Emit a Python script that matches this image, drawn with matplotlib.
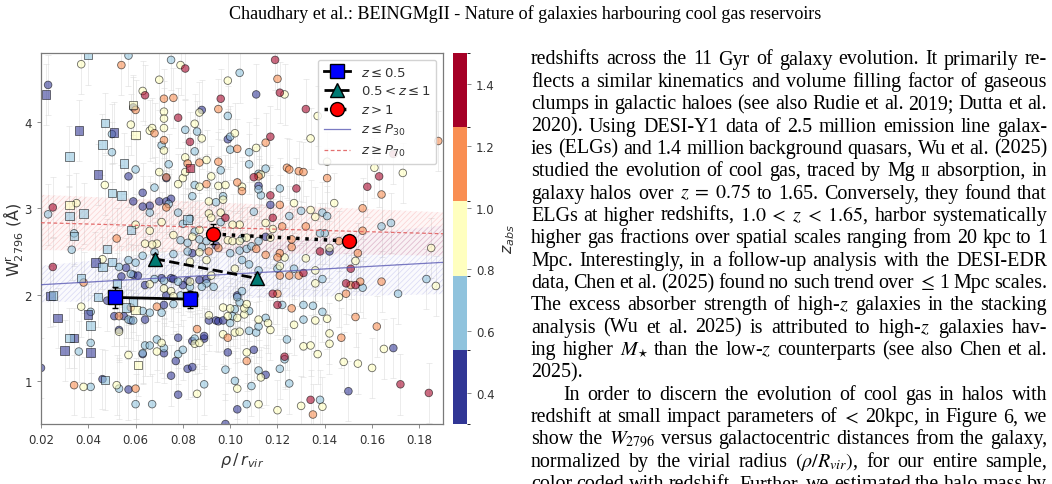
import numpy as np
import matplotlib
matplotlib.use("Agg")
import matplotlib.pyplot as plt
from matplotlib.colors import BoundaryNorm
import matplotlib.cm as cm
from matplotlib.lines import Line2D

# ---------------------------------------------------------------- data
# redshift value representative of each colour class (z_abs)
Z_DB, Z_LB, Z_YL, Z_OR, Z_RD = 0.42, 0.66, 0.90, 1.14, 1.38

# circles: (rho/r_vir, W2796)
RHO_DB = [0.023, 0.111, 0.059, 0.088, 0.099, 0.057, 0.073, 0.112, 0.117, 0.142, 0.073, 0.075, 0.070, 0.066,
          0.063, 0.059, 0.063, 0.084, 0.094, 0.056, 0.054, 0.059, 0.061, 0.064, 0.071, 0.075, 0.076, 0.082,
          0.087, 0.090, 0.085, 0.080, 0.073, 0.072, 0.064, 0.058, 0.055, 0.051, 0.053, 0.048, 0.020, 0.046,
          0.057, 0.063, 0.072, 0.075, 0.078, 0.077, 0.078, 0.082, 0.084, 0.084, 0.089, 0.089, 0.091, 0.094,
          0.095, 0.097, 0.103, 0.110, 0.099, 0.115, 0.103, 0.098, 0.169, 0.150, 0.115]
W_DB = [4.43, 4.32, 4.17, 4.14, 3.80, 3.37, 3.35, 3.26, 3.04, 2.50, 3.08, 3.11, 3.08, 3.03,
        3.18, 3.08, 3.02, 2.48, 2.57, 2.31, 2.21, 2.23, 2.22, 2.11, 2.19, 2.19, 2.18, 2.16,
        2.17, 2.18, 1.99, 2.11, 1.99, 1.88, 1.71, 1.70, 1.75, 1.75, 1.59, 1.93, 1.15, 1.02,
        0.90, 1.31, 1.32, 1.06, 0.84, 1.23, 1.50, 1.14, 1.16, 1.46, 1.49, 1.52, 1.70, 1.70,
        1.69, 1.70, 1.99, 1.36, 1.33, 1.07, 0.67, 0.50, 1.38, 0.88, 2.67]

RHO_LB = [0.057, 0.075, 0.104, 0.099, 0.050, 0.081, 0.086, 0.071, 0.100, 0.050, 0.085, 0.100, 0.108, 0.074,
          0.108, 0.060, 0.085, 0.096, 0.112, 0.115, 0.113, 0.121, 0.130, 0.139, 0.141, 0.140, 0.138, 0.168,
          0.164, 0.120, 0.127, 0.108, 0.105, 0.112, 0.096, 0.094, 0.097, 0.110, 0.112, 0.084, 0.074, 0.068,
          0.066, 0.078, 0.080, 0.079, 0.083, 0.085, 0.087, 0.082, 0.088, 0.090, 0.105, 0.100, 0.104, 0.107,
          0.109, 0.112, 0.082, 0.076, 0.068, 0.063, 0.060, 0.057, 0.053, 0.058, 0.068, 0.072, 0.078, 0.090,
          0.093, 0.088, 0.083, 0.079, 0.076, 0.071, 0.066, 0.063, 0.057, 0.059, 0.033, 0.034, 0.023, 0.041,
          0.041, 0.036, 0.041, 0.053, 0.060, 0.067, 0.063, 0.064, 0.066, 0.072, 0.069, 0.078, 0.080, 0.085,
          0.100, 0.108, 0.104, 0.103, 0.105, 0.102, 0.101, 0.108, 0.111, 0.112, 0.115, 0.112, 0.109, 0.107,
          0.102, 0.098, 0.089, 0.121, 0.123, 0.124, 0.125, 0.122, 0.131, 0.131, 0.135, 0.139, 0.138, 0.171,
          0.156, 0.183, 0.139, 0.125]
W_LB = [4.77, 4.72, 4.57, 4.07, 3.86, 3.91, 3.89, 3.73, 3.83, 3.65, 3.66, 3.68, 3.65, 3.51,
        3.51, 3.45, 3.27, 3.44, 3.40, 3.46, 3.15, 3.23, 2.97, 2.95, 2.91, 2.71, 2.71, 2.83,
        2.79, 2.30, 2.30, 2.35, 2.40, 2.28, 2.84, 3.07, 3.14, 2.96, 3.22, 3.14, 3.05, 3.24,
        2.95, 2.95, 2.82, 2.63, 2.88, 2.73, 2.64, 2.60, 2.55, 2.62, 2.65, 2.48, 2.51, 2.53,
        2.56, 2.62, 2.50, 2.47, 2.49, 2.45, 2.37, 2.40, 2.32, 2.24, 2.18, 2.16, 2.15, 2.13,
        2.09, 2.09, 2.09, 1.99, 1.89, 1.79, 1.79, 1.81, 1.71, 1.70, 2.52, 2.71, 2.93, 1.80,
        1.44, 1.34, 0.93, 0.91, 0.73, 0.73, 1.32, 1.41, 1.41, 1.38, 1.48, 1.31, 1.36, 1.49,
        1.67, 1.81, 1.91, 1.97, 2.04, 1.83, 1.75, 1.58, 1.56, 1.63, 1.73, 1.12, 0.94, 0.73,
        1.00, 1.13, 0.96, 1.14, 1.25, 1.48, 0.97, 1.88, 1.88, 1.71, 1.87, 1.80, 0.78, 2.01,
        2.08, 2.18, 2.18, 2.91]

RHO_YL = [0.037, 0.079, 0.070, 0.099, 0.123, 0.063, 0.087, 0.137, 0.058, 0.066, 0.067, 0.072, 0.085, 0.088,
          0.072, 0.102, 0.134, 0.111, 0.081, 0.090, 0.047, 0.080, 0.081, 0.070, 0.092, 0.095, 0.098, 0.105,
          0.113, 0.141, 0.144, 0.161, 0.173, 0.127, 0.134, 0.136, 0.185, 0.142, 0.132, 0.121, 0.117, 0.115,
          0.118, 0.123, 0.102, 0.104, 0.101, 0.096, 0.091, 0.092, 0.091, 0.097, 0.071, 0.076, 0.084, 0.087,
          0.099, 0.101, 0.104, 0.107, 0.090, 0.087, 0.083, 0.069, 0.067, 0.064, 0.066, 0.046, 0.060, 0.066,
          0.083, 0.092, 0.075, 0.072, 0.076, 0.035, 0.037, 0.053, 0.038, 0.052, 0.057, 0.069, 0.071, 0.085,
          0.087, 0.091, 0.099, 0.103, 0.106, 0.106, 0.107, 0.097, 0.100, 0.097, 0.102, 0.104, 0.112, 0.116,
          0.117, 0.107, 0.113, 0.103, 0.086, 0.112, 0.120, 0.127, 0.131, 0.134, 0.136, 0.137, 0.141, 0.142,
          0.142, 0.146, 0.148, 0.154, 0.160, 0.165, 0.130, 0.139, 0.187, 0.153, 0.136, 0.136, 0.078, 0.087,
          0.072, 0.072]
W_YL = [4.67, 4.66, 4.49, 4.48, 4.32, 4.36, 4.11, 4.07, 3.97, 3.90, 3.93, 3.93, 3.98, 3.81,
        3.67, 3.87, 3.81, 3.70, 3.59, 3.56, 3.27, 3.35, 3.42, 3.42, 3.37, 3.26, 3.27, 3.25,
        3.39, 3.54, 3.06, 3.47, 3.41, 3.06, 2.98, 2.90, 2.54, 2.54, 2.42, 2.33, 2.66, 2.83,
        2.76, 2.43, 2.30, 2.81, 2.81, 2.95, 2.94, 2.89, 3.08, 3.10, 2.84, 2.69, 2.67, 2.75,
        2.63, 2.62, 2.62, 2.66, 2.40, 2.49, 2.38, 2.59, 2.58, 2.59, 2.74, 2.41, 2.81, 2.12,
        2.15, 2.22, 2.04, 2.07, 1.98, 3.06, 1.86, 1.57, 0.93, 0.95, 1.30, 1.34, 1.44, 1.43,
        1.44, 1.76, 1.75, 1.73, 1.77, 1.84, 1.89, 1.85, 1.84, 1.54, 1.56, 1.57, 1.71, 1.67,
        1.59, 1.33, 1.04, 0.91, 0.85, 0.73, 0.66, 1.65, 1.40, 1.41, 1.70, 1.31, 1.72, 1.55,
        1.43, 1.97, 1.22, 1.20, 1.15, 1.37, 0.71, 0.70, 2.10, 2.39, 2.13, 2.28, 3.28, 3.25,
        4.12, 4.04]

RHO_OR = [0.054, 0.120, 0.072, 0.076, 0.060, 0.095, 0.068, 0.072, 0.103, 0.115, 0.082, 0.095, 0.090, 0.103,
          0.112, 0.124, 0.125, 0.129, 0.131, 0.141, 0.164, 0.188, 0.121, 0.156, 0.156, 0.146, 0.129, 0.125,
          0.121, 0.121, 0.120, 0.126, 0.126, 0.111, 0.115, 0.105, 0.091, 0.095, 0.052, 0.069, 0.058, 0.053,
          0.038, 0.034, 0.060, 0.086, 0.099, 0.107, 0.126, 0.120, 0.149, 0.153, 0.147, 0.162, 0.135, 0.151,
          0.155, 0.154, 0.164, 0.087, 0.073, 0.073, 0.122, 0.132]
W_OR = [4.66, 4.50, 4.27, 4.28, 4.14, 4.15, 3.87, 3.79, 3.69, 3.76, 3.52, 3.54, 3.28, 3.30,
        3.37, 3.47, 3.45, 3.43, 3.42, 3.35, 3.16, 3.78, 3.04, 3.00, 2.74, 2.62, 2.22, 2.22,
        2.22, 2.48, 2.43, 2.55, 2.64, 2.53, 2.46, 3.20, 2.50, 2.54, 2.65, 1.86, 1.85, 1.75,
        2.14, 0.95, 0.91, 1.60, 1.50, 1.23, 1.84, 2.01, 2.01, 1.74, 1.50, 1.63, 0.61, 2.11,
        2.15, 2.48, 2.15, 3.53, 3.01, 3.36, 2.79, 2.79]

RHO_RD = [0.081, 0.119, 0.121, 0.064, 0.096, 0.078, 0.132, 0.083, 0.117, 0.110, 0.117, 0.128, 0.163, 0.158,
          0.169, 0.098, 0.138, 0.131, 0.151, 0.149, 0.153, 0.025, 0.025, 0.123, 0.120, 0.118, 0.172, 0.184,
          0.134, 0.118]
W_RD = [4.62, 4.72, 4.34, 4.31, 4.27, 4.05, 4.15, 3.77, 3.83, 3.36, 3.15, 3.23, 3.37, 3.25,
        3.63, 2.89, 2.50, 2.25, 2.30, 2.13, 2.11, 3.01, 2.32, 1.28, 1.88, 2.01, 0.96, 0.86,
        0.78, 2.89]

# squares (second sub-sample)
SQ_RHO_DB = [0.022, 0.036, 0.051, 0.044, 0.024, 0.027, 0.030, 0.034, 0.040, 0.041, 0.043]
SQ_W_DB = [4.32, 3.90, 3.88, 3.39, 1.98, 1.73, 1.35, 1.50, 1.77, 1.33, 2.37]
SQ_RHO_LB = [0.040, 0.047, 0.046, 0.032, 0.055, 0.050, 0.054, 0.032, 0.038, 0.034, 0.048, 0.050, 0.046,
             0.037, 0.052, 0.044, 0.025, 0.032, 0.041, 0.047, 0.059, 0.056, 0.058, 0.082]
SQ_W_LB = [4.78, 3.99, 3.74, 3.60, 3.52, 3.18, 3.15, 2.91, 2.94, 2.68, 2.53, 2.38, 2.32,
           2.19, 2.13, 1.97, 1.99, 1.50, 1.64, 1.01, 1.92, 1.85, 2.75, 2.87]
SQ_RHO_YL = [0.059, 0.060, 0.032, 0.060, 0.061]
SQ_W_YL = [4.20, 3.85, 3.04, 1.82, 1.18]
SQ_RHO_RD = [0.083]
SQ_W_RD = [3.47]

W_ERR = 0.35  # typical individual uncertainty

# binned medians
BIN_RHO_LOW, BIN_W_LOW, BIN_E_LOW = [0.0515, 0.0828], [1.967, 1.947], [0.12, 0.10]
BIN_RHO_MID, BIN_W_MID, BIN_E_MID = [0.0681, 0.1114], [2.415, 2.187], [0.05, 0.05]
BIN_RHO_HIGH, BIN_W_HIGH, BIN_E_HIGH = [0.0929, 0.1504], [2.701, 2.620], [0.12, 0.05]

# linear fits (intercept, slope) and their confidence bands
FIT_P30 = (2.084, 1.524)
BAND_P30_LO, BAND_P30_HI = (1.898, 0.565), (2.279, 2.741)
FIT_P70 = (2.848, -0.753)
BAND_P70_LO, BAND_P70_HI = (2.524, -0.388), (3.181, -1.200)

LEGEND_LABELS = [r"$z \leq 0.5$", r"$0.5 < z \leq 1$", r"$z > 1$", r"$z \leq P_{30}$", r"$z \geq P_{70}$"]
CBAR_TICKS = [0.4, 0.6, 0.8, 1.0, 1.2, 1.4]
XTICKS = [0.02, 0.04, 0.06, 0.08, 0.10, 0.12, 0.14, 0.16, 0.18]
YTICKS = [1, 2, 3, 4]

HEADER = "Chaudhary et al.: BEINGMgII - Nature of galaxies harbouring cool gas reservoirs"
BODY = [
    ("redshifts across the 11 Gyr of galaxy evolution. It primarily re-", True, False),
    ("flects a similar kinematics and volume filling factor of gaseous", True, False),
    ("clumps in galactic haloes (see also Rudie et al. 2019; Dutta et al.", True, False),
    ("2020). Using DESI-Y1 data of 2.5 million emission line galax-", True, False),
    ("ies (ELGs) and 1.4 million background quasars, Wu et al. (2025)", True, False),
    ("studied the evolution of cool gas, traced by Mg §II absorption, in", True, False),
    (r"galaxy halos over $z\;=\;0.75$ to 1.65. Conversely, they found that", True, False),
    (r"ELGs at higher redshifts, $1.0\;<\;z\;<\;1.65$, harbor systematically", True, False),
    ("higher gas fractions over spatial scales ranging from 20 kpc to 1", True, False),
    ("Mpc. Interestingly, in a follow-up analysis with the DESI-EDR", True, False),
    (r"data, Chen et al. (2025) found no such trend over $\leq$ 1 Mpc scales.", True, False),
    ("The excess absorber strength of high-$z$ galaxies in the stacking", True, False),
    ("analysis (Wu et al. 2025) is attributed to high-$z$ galaxies hav-", True, False),
    (r"ing higher $M_{\star}$ than the low-$z$ counterparts (see also Chen et al.", True, False),
    ("2025).", False, False),
    ("In order to discern the evolution of cool gas in halos with", True, True),
    ("redshift at small impact parameters of $<$ 20kpc, in Figure 6, we", True, False),
    ("show the $W_{2796}$ versus galactocentric distances from the galaxy,", True, False),
    (r"normalized by the virial radius $(\rho/R_{vir})$, for our entire sample,", True, False),
    ("color coded with redshift. Further, we estimated the halo mass by", True, False),
]

# ---------------------------------------------------------------- figure
WPX, HPX = 1052, 485
fig = plt.figure(figsize=(WPX / 100, HPX / 100), dpi=100)
fx = lambda p: p / WPX
fy = lambda p: 1 - p / HPX

TXT = "#333333"
SPINE = "#7a7a7a"

ax = fig.add_axes([fx(41), fy(425), fx(443) - fx(41), fy(54) - fy(425)])
cax = fig.add_axes([fx(453), fy(425), fx(467) - fx(453), fy(54) - fy(425)])

cmap = plt.get_cmap("RdYlBu_r", 5)
norm = BoundaryNorm(np.linspace(0.3, 1.5, 6), cmap.N)

circles = [(RHO_DB, W_DB, Z_DB), (RHO_LB, W_LB, Z_LB), (RHO_YL, W_YL, Z_YL),
           (RHO_OR, W_OR, Z_OR), (RHO_RD, W_RD, Z_RD)]
squares = [(SQ_RHO_DB, SQ_W_DB, Z_DB), (SQ_RHO_LB, SQ_W_LB, Z_LB),
           (SQ_RHO_YL, SQ_W_YL, Z_YL), (SQ_RHO_RD, SQ_W_RD, Z_RD)]

for grp in (circles, squares):
    for r, w, z in grp:
        ax.errorbar(r, w, yerr=W_ERR, fmt="none", ecolor="#d9d9d9", elinewidth=0.7,
                    capsize=2, capthick=0.7, alpha=0.5, zorder=1)

def gather(grp):
    r = np.concatenate([np.asarray(g[0]) for g in grp])
    w = np.concatenate([np.asarray(g[1]) for g in grp])
    z = np.concatenate([np.full(len(g[0]), g[2]) for g in grp])
    return r, w, z

r, w, z = gather(circles)
ax.scatter(r, w, c=z, cmap=cmap, norm=norm, s=30, marker="o", edgecolors="k",
           linewidths=0.6, alpha=0.58, zorder=2)
r, w, z = gather(squares)
ax.scatter(r, w, c=z, cmap=cmap, norm=norm, s=36, marker="s", edgecolors="k",
           linewidths=0.6, alpha=0.58, zorder=2)

# fits
rr = np.linspace(0.02, 0.19, 60)
lin = lambda p: p[0] + p[1] * rr
plt.rcParams["hatch.linewidth"] = 0.5
ax.fill_between(rr, lin(BAND_P30_LO), lin(BAND_P30_HI), facecolor=(0.5, 0.5, 0.85, 0.04),
                edgecolor=(0.45, 0.45, 0.85, 0.25), hatch="//////", linewidth=0, zorder=1.5)
ax.fill_between(rr, lin(BAND_P70_LO), lin(BAND_P70_HI), facecolor=(0.95, 0.5, 0.5, 0.07),
                edgecolor=(0.95, 0.45, 0.45, 0.28), hatch="//////", linewidth=0, zorder=1.5)
ax.plot(rr, lin(FIT_P30), color="#5a5ab4", lw=0.9, alpha=0.8, zorder=3)
ax.plot(rr, lin(FIT_P70), color="#e06060", lw=0.9, ls=(0, (3, 2)), alpha=0.9, zorder=3)

# binned
ax.errorbar(BIN_RHO_LOW, BIN_W_LOW, yerr=BIN_E_LOW, fmt="-s", color="k", mfc="#0000ff", mec="k",
            ms=10, lw=2, elinewidth=1, capsize=2, zorder=6)
ax.errorbar(BIN_RHO_MID, BIN_W_MID, yerr=BIN_E_MID, fmt="--^", color="k", mfc="#007a73", mec="k",
            ms=10, lw=2, elinewidth=1, capsize=2, zorder=6)
ax.errorbar(BIN_RHO_HIGH, BIN_W_HIGH, yerr=BIN_E_HIGH, fmt=":o", color="k", mfc="#ff0000", mec="k",
            ms=10, lw=2.5, elinewidth=1, capsize=2, zorder=6)

handles = [
    Line2D([], [], color="k", lw=2, ls="-", marker="s", ms=10, mfc="#0000ff", mec="k"),
    Line2D([], [], color="k", lw=2, ls="--", marker="^", ms=10, mfc="#007a73", mec="k"),
    Line2D([], [], color="k", lw=2.5, ls=":", marker="o", ms=10, mfc="#ff0000", mec="k"),
    Line2D([], [], color="#5a5ab4", lw=0.9, alpha=0.8),
    Line2D([], [], color="#e06060", lw=0.9, ls=(0, (3, 2)), alpha=0.9),
]
leg = ax.legend(handles, LEGEND_LABELS, loc="upper right", fontsize=9.5, framealpha=0.85,
                edgecolor="#cccccc", fancybox=True, labelspacing=0.45, borderpad=0.45)
for t in leg.get_texts():
    t.set_color(TXT)
leg.set_zorder(10)

ax.set_xlim(0.02, 0.19)
ax.set_ylim(0.5, 4.8)
ax.set_xticks(XTICKS)
ax.set_yticks(YTICKS)
ax.set_xticklabels([f"{v:.2f}" for v in XTICKS])
ax.tick_params(axis="both", labelsize=8.5, colors=SPINE, labelcolor=TXT, length=3, width=0.6)
for s in ax.spines.values():
    s.set_color(SPINE)
    s.set_linewidth(0.9)
ax.set_xlabel(r"$\rho\,/\,r_{vir}$", fontsize=11.5, color=TXT, labelpad=3)
ax.set_ylabel(r"W$^{\rm r}_{2796}$ (Å)", fontsize=11.5, color=TXT)
ax.yaxis.set_label_coords(-0.038, 0.5)

sm = cm.ScalarMappable(norm=norm, cmap=cmap)
cb = fig.colorbar(sm, cax=cax, ticks=CBAR_TICKS)
cb.outline.set_visible(False)
cb.ax.tick_params(labelsize=8.5, colors=SPINE, labelcolor=TXT, length=3, width=0.6)
cb.ax.set_yticklabels([f"{v:.1f}" for v in CBAR_TICKS])
cb.set_label(r"$z_{abs}$", fontsize=11.5, color=TXT, labelpad=5)

# ---------------------------------------------------------------- page text
renderer = fig.canvas.get_renderer()
SERIF = "Liberation Serif"

def width_of(s, size):
    t = fig.text(0, 0, s, fontsize=size, family=SERIF, math_fontfamily="stix")
    wdt = t.get_window_extent(renderer).width
    t.remove()
    return wdt

# header, scaled to its measured width in the page
hw = width_of(HEADER, 12)
fig.text(fx(525), fy(14), HEADER, fontsize=12 * 592 / hw, family=SERIF, ha="center", va="center", color="k")

X0, X1, INDENT = 531, 1047, 32
BASE0, LEAD = 64.5, 22.35
SPACE_EM = 0.30

def tokens(line):
    return line.split(" ")

def tok_size(tok, fs):
    return (tok[1:], fs * 0.72) if tok.startswith("§") else (tok, fs)

# choose body font size so the natural width of justified lines matches the column
fs0 = 13.0
ratios = []
for line, just, ind in BODY:
    if not just:
        continue
    toks = tokens(line)
    nat = sum(width_of(*tok_size(t, fs0)) for t in toks) + (len(toks) - 1) * SPACE_EM * fs0 * 100 / 72
    ratios.append((X1 - X0 - (INDENT if ind else 0)) / nat)
FS = fs0 * float(np.median(ratios))

for i, (line, just, ind) in enumerate(BODY):
    y = BASE0 + i * LEAD
    items = []
    for t in tokens(line):
        s, size = tok_size(t, FS)
        items.append((s, size, width_of(s, size)))
    x = X0 + (INDENT if ind else 0)
    total = sum(it[2] for it in items)
    if just and len(items) > 1:
        gap = (X1 - x - total) / (len(items) - 1)
    else:
        gap = SPACE_EM * FS * 100 / 72
    for s, size, wd in items:
        fig.text(fx(x), fy(y), s, fontsize=size, family=SERIF, math_fontfamily="stix",
                 ha="left", va="baseline", color="k")
        x += wd + gap

fig.savefig("out.png", dpi=100)
